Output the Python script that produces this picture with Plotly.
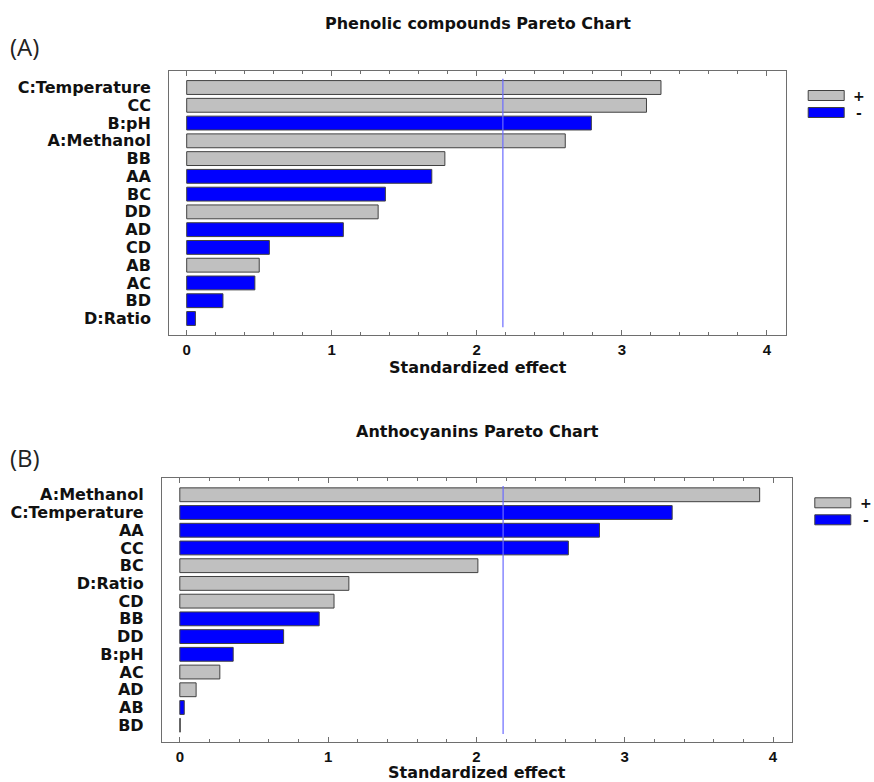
import plotly.graph_objects as go

W, H = 874, 782

# Standardized effects (sign gives the direction of the effect)
phenolic_terms = ["C:Temperature", "CC", "B:pH", "A:Methanol", "BB", "AA", "BC",
                  "DD", "AD", "CD", "AB", "AC", "BD", "D:Ratio"]
phenolic_effects = [3.27, 3.17, -2.79, 2.61, 1.78, -1.69, -1.37,
                    1.32, -1.08, -0.57, 0.50, -0.47, -0.25, -0.06]

anthocyanin_terms = ["A:Methanol", "C:Temperature", "AA", "CC", "BC", "D:Ratio", "CD",
                     "BB", "DD", "B:pH", "AC", "AD", "AB", "BD"]
anthocyanin_effects = [3.91, -3.32, -2.83, -2.62, 2.01, 1.14, 1.04,
                       -0.94, -0.70, -0.36, 0.27, 0.11, -0.03, 0.003]

# Critical value of the standardized effect (significance line)
t_critical = 2.18

x_tick_values = [0, 1, 2, 3, 4]
legend_labels = ["+", "-"]

POS_COLOR = "#C0C0C0"
NEG_COLOR = "#0000FF"
EDGE_COLOR = "#404040"
FRAME_COLOR = "#6E6E6E"
LINE_COLOR = "#6B6BFF"
FONT = "DejaVu Sans"
NUM_FONT = "Liberation Sans"


def px_x(p):
    return p / W


def px_y(p):
    return 1 - p / H


panels = [
    dict(title="Phenolic compounds Pareto Chart", tag="(A)",
         terms=phenolic_terms, effects=phenolic_effects,
         box=(169.3, 785.7, 71.0, 335.0), title_y=24, tag_y=47, xtitle_bottom=378),
    dict(title="Anthocyanins Pareto Chart", tag="(B)",
         terms=anthocyanin_terms, effects=anthocyanin_effects,
         box=(162.0, 792.3, 478.3, 741.7), title_y=431, tag_y=457, xtitle_bottom=783),
]

fig = go.Figure()
shapes = []
annotations = []

for i, p in enumerate(panels):
    sfx = "" if i == 0 else str(i + 1)
    xa, ya = "x" + sfx, "y" + sfx
    n = len(p["terms"])
    colors = [POS_COLOR if v >= 0 else NEG_COLOR for v in p["effects"]]
    fig.add_trace(go.Bar(
        x=[abs(v) for v in p["effects"]], y=p["terms"], orientation="h",
        marker=dict(color=colors, line=dict(color=EDGE_COLOR, width=1)),
        width=0.78, xaxis=xa, yaxis=ya, showlegend=False, hoverinfo="x+y",
    ))

    x0, x1, y0, y1 = p["box"]
    fig.layout["xaxis" + sfx] = dict(
        domain=[px_x(x0), px_x(x1)], anchor=ya, range=[-0.12, 4.13],
        tickmode="array", tickvals=x_tick_values,
        ticks="inside", ticklen=5, tickwidth=1, tickcolor=FRAME_COLOR,
        minor=dict(dtick=0.2, ticks="inside", ticklen=3, tickcolor=FRAME_COLOR, showgrid=False),
        showline=True, linecolor=FRAME_COLOR, linewidth=1.3, mirror="allticks",
        showgrid=False, zeroline=False,
        tickfont=dict(family=NUM_FONT, size=15, color="#111111", weight="bold"),
        ticklabelstandoff=1,
    )
    fig.layout["yaxis" + sfx] = dict(
        domain=[px_y(y1), px_y(y0)], anchor=xa, type="category",
        categoryorder="array", categoryarray=p["terms"],
        tickmode="array", tickvals=p["terms"],
        range=[n - 1 + 0.93, -0.93],
        ticks="", showline=True, linecolor=FRAME_COLOR, linewidth=1.3, mirror=True,
        showgrid=False, zeroline=False,
        tickfont=dict(family=FONT, size=16, color="#111111", weight="bold"),
        ticklabelstandoff=14,
    )

    # significance line
    shapes.append(dict(type="line", xref=xa, yref=ya,
                       x0=t_critical, x1=t_critical, y0=-0.5, y1=n - 0.5,
                       line=dict(color=LINE_COLOR, width=1.2), layer="above"))

    # titles
    annotations.append(dict(text=p["title"], xref="paper", yref="paper",
                            x=px_x((x0 + x1) / 2), y=px_y(p["title_y"]),
                            xanchor="center", yanchor="middle", showarrow=False,
                            font=dict(family=FONT, size=16, color="#111111", weight="bold")))
    annotations.append(dict(text="Standardized effect", xref="paper", yref="paper",
                            x=px_x((x0 + x1) / 2), y=px_y(p["xtitle_bottom"]),
                            xanchor="center", yanchor="bottom", showarrow=False,
                            borderpad=0,
                            font=dict(family=FONT, size=16, color="#111111", weight="bold")))
    annotations.append(dict(text=p["tag"], xref="paper", yref="paper",
                            x=px_x(8), y=px_y(p["tag_y"]),
                            xanchor="left", yanchor="middle", showarrow=False,
                            font=dict(family="Open Sans", size=24, color="#222222")))

    # legend swatches
    lx = x1 + 22.5
    for j, (lab, col) in enumerate(zip(legend_labels, [POS_COLOR, NEG_COLOR])):
        cy = y0 + 24.5 + 17 * j
        shapes.append(dict(type="rect", xref="paper", yref="paper",
                           x0=px_x(lx), x1=px_x(lx + 36),
                           y0=px_y(cy + 5), y1=px_y(cy - 5),
                           fillcolor=col, line=dict(color=EDGE_COLOR, width=1)))
        annotations.append(dict(text=lab, xref="paper", yref="paper",
                                x=px_x(lx + 51), y=px_y(cy),
                                xanchor="center", yanchor="middle", showarrow=False,
                                borderpad=0,
                                font=dict(family=FONT, size=14, color="#111111", weight="bold")))

fig.update_layout(
    width=W, height=H, margin=dict(l=0, r=0, t=0, b=0),
    paper_bgcolor="white", plot_bgcolor="white",
    shapes=shapes, annotations=annotations, bargap=0.2, showlegend=False,
)

fig.write_html("out.html")
